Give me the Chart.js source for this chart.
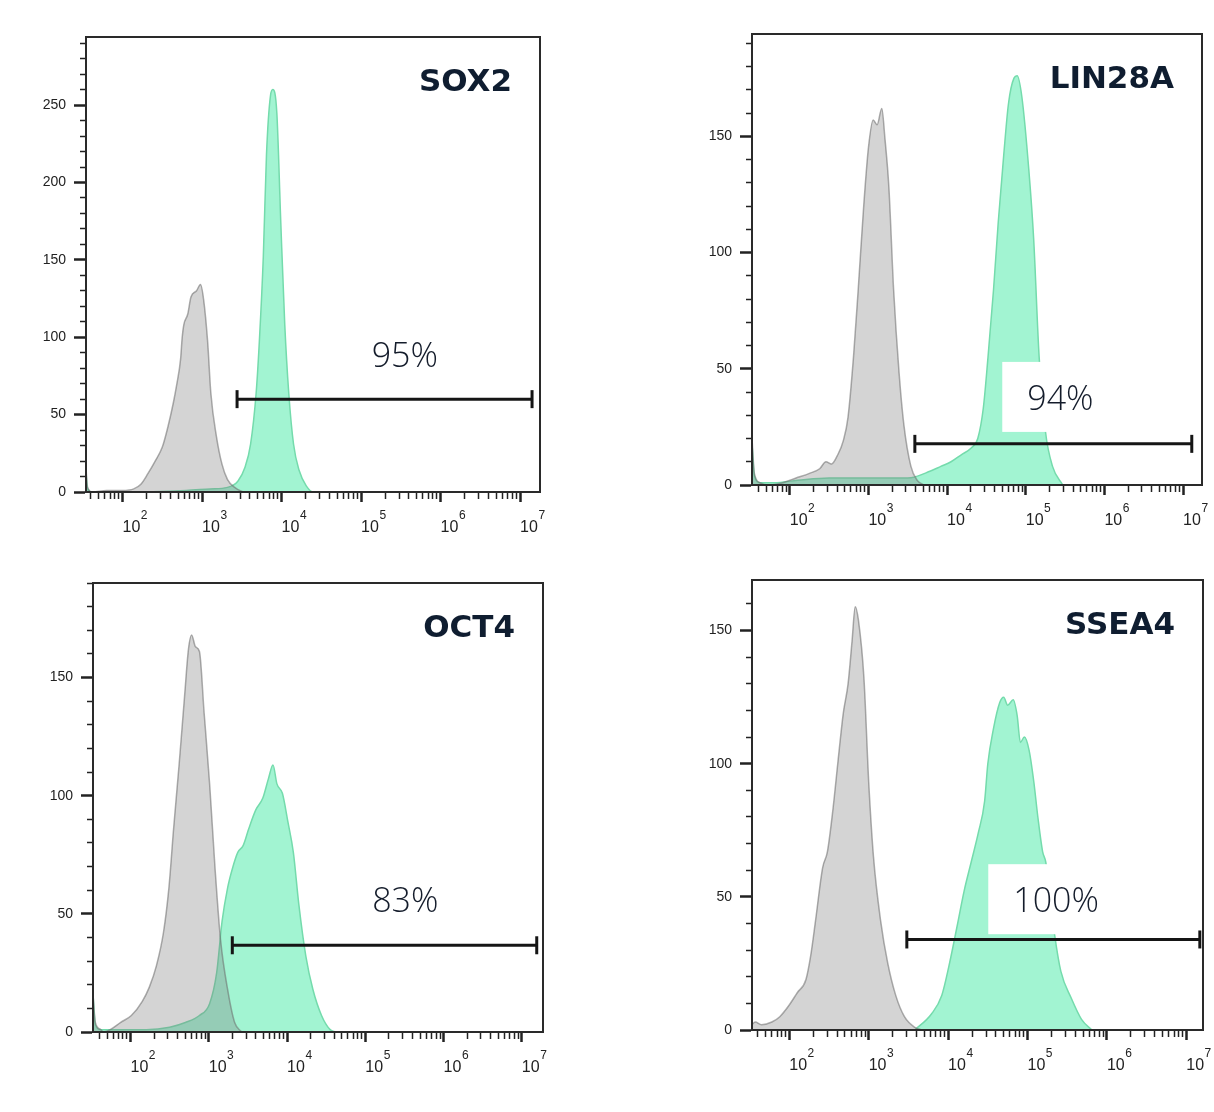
<!DOCTYPE html>
<html>
<head>
<meta charset="utf-8">
<script src="https://cdn.jsdelivr.net/npm/chart.js@4.4.1/dist/chart.umd.min.js"></script>
<style>
html, body { margin: 0; padding: 0; background: #fff; overflow: hidden; width: 1214px; height: 1112px; }
canvas { position: absolute; }
</style>
</head>
<body>
<script>
// marker names and gate percentages
const markers = ['SOX2', 'LIN28A', 'OCT4', 'SSEA4'];
const pctLabels = ['95%', '94%', '83%', '100%'];

// x tick labels (log10 decades): base text and exponent
const xTickExps = [2, 3, 4, 5, 6, 7];
const xTickBase = '10';
const xTickSup = ['2', '3', '4', '5', '6', '7'];

// SOX2 (x = log10 intensity, y = count)
const sox2IsoX = [1.53, 1.56, 1.62, 1.8, 2.0, 2.14, 2.23, 2.32, 2.41, 2.50, 2.57, 2.64, 2.68, 2.73, 2.75, 2.77, 2.82, 2.86, 2.93, 2.98, 3.02, 3.07, 3.11, 3.18, 3.25, 3.32, 3.41, 3.54, 3.7];
const sox2IsoY = [24, 3, 0, 1, 1, 2, 5, 12, 20, 29, 42, 58, 69, 86, 100, 108, 115, 126, 130, 134, 124, 97, 64, 36, 18, 8, 3, 0, 0];
const sox2StainX = [1.53, 1.56, 1.62, 2.0, 2.8, 3.1, 3.32, 3.45, 3.54, 3.61, 3.68, 3.72, 3.77, 3.81, 3.86, 3.89, 3.94, 3.99, 4.04, 4.09, 4.15, 4.22, 4.31, 4.40, 4.6];
const sox2StainY = [20, 2, 0, 0, 1, 2, 3, 7, 16, 31, 64, 97, 152, 218, 256, 260, 245, 174, 108, 64, 31, 14, 4, 0, 0];
const sox2Gate = [3.44, 7.15, 60];
const sox2LabelPos = [5.55, 87];

// LIN28A
const lin28IsoX = [1.52, 1.55, 1.62, 1.73, 1.91, 2.08, 2.25, 2.38, 2.46, 2.53, 2.61, 2.68, 2.74, 2.81, 2.87, 2.94, 3.00, 3.06, 3.11, 3.17, 3.21, 3.26, 3.32, 3.39, 3.45, 3.54, 3.62, 3.71];
const lin28IsoY = [20, 5, 1, 0, 1, 3, 5, 7, 10, 9, 13, 19, 29, 55, 84, 120, 145, 157, 155, 162, 149, 128, 84, 48, 26, 8, 2, 0];
const lin28StainX = [1.52, 1.55, 1.62, 1.8, 2.1, 2.5, 3.0, 3.5, 3.79, 3.92, 4.05, 4.18, 4.31, 4.39, 4.46, 4.52, 4.59, 4.65, 4.72, 4.78, 4.85, 4.89, 4.95, 5.04, 5.10, 5.17, 5.25, 5.34, 5.47];
const lin28StainY = [18, 4, 1, 1, 2, 3, 3, 3, 6, 8, 10, 13, 16, 20, 33, 55, 84, 113, 142, 164, 175, 176, 167, 135, 106, 55, 23, 8, 0];
const lin28Gate = [3.59, 7.11, 17.7];
const lin28LabelPos = [5.44, 36.6];

// OCT4
const oct4IsoX = [1.52, 1.55, 1.62, 1.65, 1.74, 1.87, 2.01, 2.15, 2.24, 2.33, 2.42, 2.49, 2.55, 2.62, 2.69, 2.74, 2.78, 2.83, 2.88, 2.94, 3.01, 3.08, 3.15, 3.24, 3.33, 3.42];
const oct4IsoY = [16, 4, 1, 0, 1, 4, 7, 13, 19, 28, 42, 61, 86, 113, 142, 162, 168, 163, 161, 135, 105, 69, 39, 18, 4, 0];
const oct4StainX = [1.52, 1.55, 1.62, 1.8, 2.2, 2.5, 2.7, 2.88, 3.01, 3.10, 3.17, 3.24, 3.30, 3.37, 3.44, 3.51, 3.60, 3.69, 3.76, 3.82, 3.87, 3.94, 4.01, 4.08, 4.15, 4.24, 4.33, 4.44, 4.55, 4.62];
const oct4StainY = [16, 3, 1, 1, 1, 2, 4, 7, 12, 25, 47, 61, 69, 76, 79, 86, 94, 99, 107, 113, 105, 101, 89, 76, 54, 32, 18, 7, 1, 0];
const oct4Gate = [3.30, 7.19, 36.7];
const oct4LabelPos = [5.51, 55];

// SSEA4
const ssea4IsoX = [1.53, 1.57, 1.65, 1.78, 1.88, 1.99, 2.10, 2.21, 2.27, 2.33, 2.42, 2.48, 2.55, 2.61, 2.68, 2.74, 2.79, 2.83, 2.87, 2.94, 3.00, 3.06, 3.15, 3.24, 3.34, 3.45, 3.58, 3.67];
const ssea4IsoY = [2, 3, 2, 3, 5, 9, 14, 19, 28, 41, 61, 67, 83, 100, 119, 130, 146, 159, 154, 132, 93, 65, 41, 25, 13, 5, 1, 0];
const ssea4StainX = [3.58, 3.79, 3.92, 4.01, 4.12, 4.20, 4.29, 4.38, 4.46, 4.50, 4.57, 4.65, 4.70, 4.75, 4.82, 4.87, 4.91, 4.96, 5.02, 5.08, 5.13, 5.19, 5.23, 5.34, 5.42, 5.55, 5.68, 5.81];
const ssea4StainY = [0, 6, 13, 24, 40, 52, 63, 74, 86, 100, 113, 123, 125, 122, 124, 118, 108, 110, 105, 93, 80, 67, 63, 36, 22, 12, 4, 0];
const ssea4Gate = [3.48, 7.17, 34];
const ssea4LabelPos = [5.36, 48];

// panel frames on the page: left, top, right, bottom of the plot box
const panels = [
    { box: [86, 37, 542, 492], xMin: 1.54, xMax: 7.25, yMax: 294, iso: [sox2IsoX, sox2IsoY], stain: [sox2StainX, sox2StainY], gate: sox2Gate, lab: sox2LabelPos },
    { box: [752, 34, 1204, 485], xMin: 1.52, xMax: 7.24, yMax: 194, iso: [lin28IsoX, lin28IsoY], stain: [lin28StainX, lin28StainY], gate: lin28Gate, lab: lin28LabelPos },
    { box: [93, 583, 545, 1032], xMin: 1.52, xMax: 7.27, yMax: 190, iso: [oct4IsoX, oct4IsoY], stain: [oct4StainX, oct4StainY], gate: oct4Gate, lab: oct4LabelPos },
    { box: [752, 580, 1205, 1030], xMin: 1.53, xMax: 7.21, yMax: 169, iso: [ssea4IsoX, ssea4IsoY], stain: [ssea4StainX, ssea4StainY], gate: ssea4Gate, lab: ssea4LabelPos }
];

const PAD_TOP = 12, PAD_RIGHT = 10, Y_AXIS_W = 80, X_AXIS_H = 50;
const isInt = v => Math.abs(v - Math.round(v)) < 1e-6;
const toPts = (xs, ys) => xs.map((x, i) => ({ x: x, y: ys[i] }));

const framePlugin = {
    id: 'frame',
    afterDatasetsDraw(chart, args, opts) {
        const { ctx, chartArea: a, scales } = chart;
        ctx.save();
        // percentage label with white backing
        ctx.font = '300 34px "Open Sans"';
        const w = ctx.measureText(opts.pct).width;
        const cx = scales.x.getPixelForValue(opts.lab[0]);
        const cy = scales.y.getPixelForValue(opts.lab[1]);
        ctx.fillStyle = '#fff';
        ctx.fillRect(cx - w / 2 - 25, cy - 38, w + 50, 70);
        ctx.fillStyle = '#141c2b';
        ctx.textAlign = 'center';
        ctx.textBaseline = 'middle';
        ctx.fillText(opts.pct, cx, cy);
        // marker name
        ctx.font = 'bold 31px "DejaVu Sans"';
        ctx.fillStyle = '#0f1d30';
        ctx.textAlign = 'right';
        ctx.textBaseline = 'alphabetic';
        ctx.fillText(opts.title, a.right - 28, a.top + 54);
        // box
        ctx.strokeStyle = '#2a2a2a';
        ctx.lineWidth = 2;
        ctx.strokeRect(a.left, a.top, a.right - a.left, a.bottom - a.top);
        ctx.restore();
    },
    afterDraw(chart) {
        // exponents of the decade labels
        const { ctx } = chart;
        const s = chart.scales.x;
        ctx.save();
        ctx.font = '16px "Liberation Sans"';
        const w10 = ctx.measureText(xTickBase).width;
        ctx.font = '12px "Liberation Sans"';
        ctx.fillStyle = '#222';
        ctx.textAlign = 'left';
        ctx.textBaseline = 'top';
        xTickExps.forEach((n, j) => {
            if (n < s.min || n > s.max) return;
            ctx.fillText(xTickSup[j], s.getPixelForValue(n) + w10 + 0.5, s.top + 18);
        });
        ctx.restore();
    }
};

panels.forEach((p, i) => {
    const [l, t, r, b] = p.box;
    const cv = document.createElement('canvas');
    cv.width = r - l + Y_AXIS_W + PAD_RIGHT;
    cv.height = b - t + PAD_TOP + X_AXIS_H;
    cv.style.left = (l - Y_AXIS_W) + 'px';
    cv.style.top = (t - PAD_TOP) + 'px';
    document.body.appendChild(cv);

    new Chart(cv.getContext('2d'), {
        type: 'line',
        data: {
            datasets: [
                { data: [{ x: p.gate[0], y: p.gate[2] }, { x: p.gate[1], y: p.gate[2] }], borderColor: '#151515', borderWidth: 3, fill: false,
                  pointStyle: 'line', pointRotation: 90, pointRadius: 9, pointBorderWidth: 3, pointBorderColor: '#151515', order: 0 },
                { data: toPts(p.iso[0], p.iso[1]), borderColor: 'rgba(105,105,105,0.55)', backgroundColor: 'rgba(125,125,125,0.33)', borderWidth: 1.5,
                  fill: 'origin', pointRadius: 0, cubicInterpolationMode: 'monotone', order: 1 },
                { data: toPts(p.stain[0], p.stain[1]), borderColor: '#74dbac', backgroundColor: '#a2f4d2', borderWidth: 1.5,
                  fill: 'origin', pointRadius: 0, cubicInterpolationMode: 'monotone', order: 2 }
            ]
        },
        options: {
            responsive: false,
            animation: false,
            layout: { padding: { left: 0, top: PAD_TOP, right: PAD_RIGHT, bottom: 0 } },
            plugins: {
                legend: { display: false },
                tooltip: { enabled: false },
                frame: { pct: pctLabels[i], title: markers[i], lab: p.lab }
            },
            scales: {
                x: {
                    type: 'linear', min: p.xMin, max: p.xMax,
                    afterFit: s => { s.height = X_AXIS_H; s.paddingLeft = 0; s.paddingRight = 0; },
                    afterBuildTicks: s => {
                        const tk = [];
                        for (let n = 1; n <= 7; n++) for (let k = 1; k <= 9; k++) {
                            const v = n + Math.log10(k);
                            if (v >= s.min - 1e-9 && v <= s.max + 1e-9) tk.push({ value: v });
                        }
                        s.ticks = tk;
                    },
                    border: { display: true, color: '#222', width: 2 },
                    grid: {
                        drawOnChartArea: false, tickLength: 10, tickColor: '#222',
                        tickWidth: c => isInt(c.tick.value) ? 2.5 : 1.5,
                        tickBorderDash: c => isInt(c.tick.value) ? [] : [6, 30]
                    },
                    ticks: {
                        autoSkip: false, maxRotation: 0, align: 'start', padding: 16,
                        color: '#222', font: { family: '"Liberation Sans"', size: 16 },
                        callback: v => isInt(v) && xTickExps.includes(Math.round(v)) ? xTickBase : ''
                    }
                },
                y: {
                    type: 'linear', min: 0, max: p.yMax,
                    afterFit: s => { s.width = Y_AXIS_W; s.paddingTop = 0; s.paddingBottom = 0; },
                    afterBuildTicks: s => {
                        const tk = [];
                        for (let v = 0; v <= s.max; v += 10) tk.push({ value: v });
                        s.ticks = tk;
                    },
                    border: { display: true, color: '#222', width: 2 },
                    grid: {
                        drawOnChartArea: false, tickLength: 12, tickColor: '#222',
                        tickWidth: c => c.tick.value % 50 === 0 ? 2.5 : 1.5,
                        tickBorderDash: c => c.tick.value % 50 === 0 ? [] : [6, 6],
                        tickBorderDashOffset: c => c.tick.value % 50 === 0 ? 0 : 6
                    },
                    ticks: {
                        autoSkip: false, padding: 8, color: '#222',
                        font: { family: '"Liberation Sans"', size: 14 },
                        callback: v => v % 50 === 0 ? String(v) : ''
                    }
                }
            }
        },
        plugins: [framePlugin]
    });
});
</script>
</body>
</html>
